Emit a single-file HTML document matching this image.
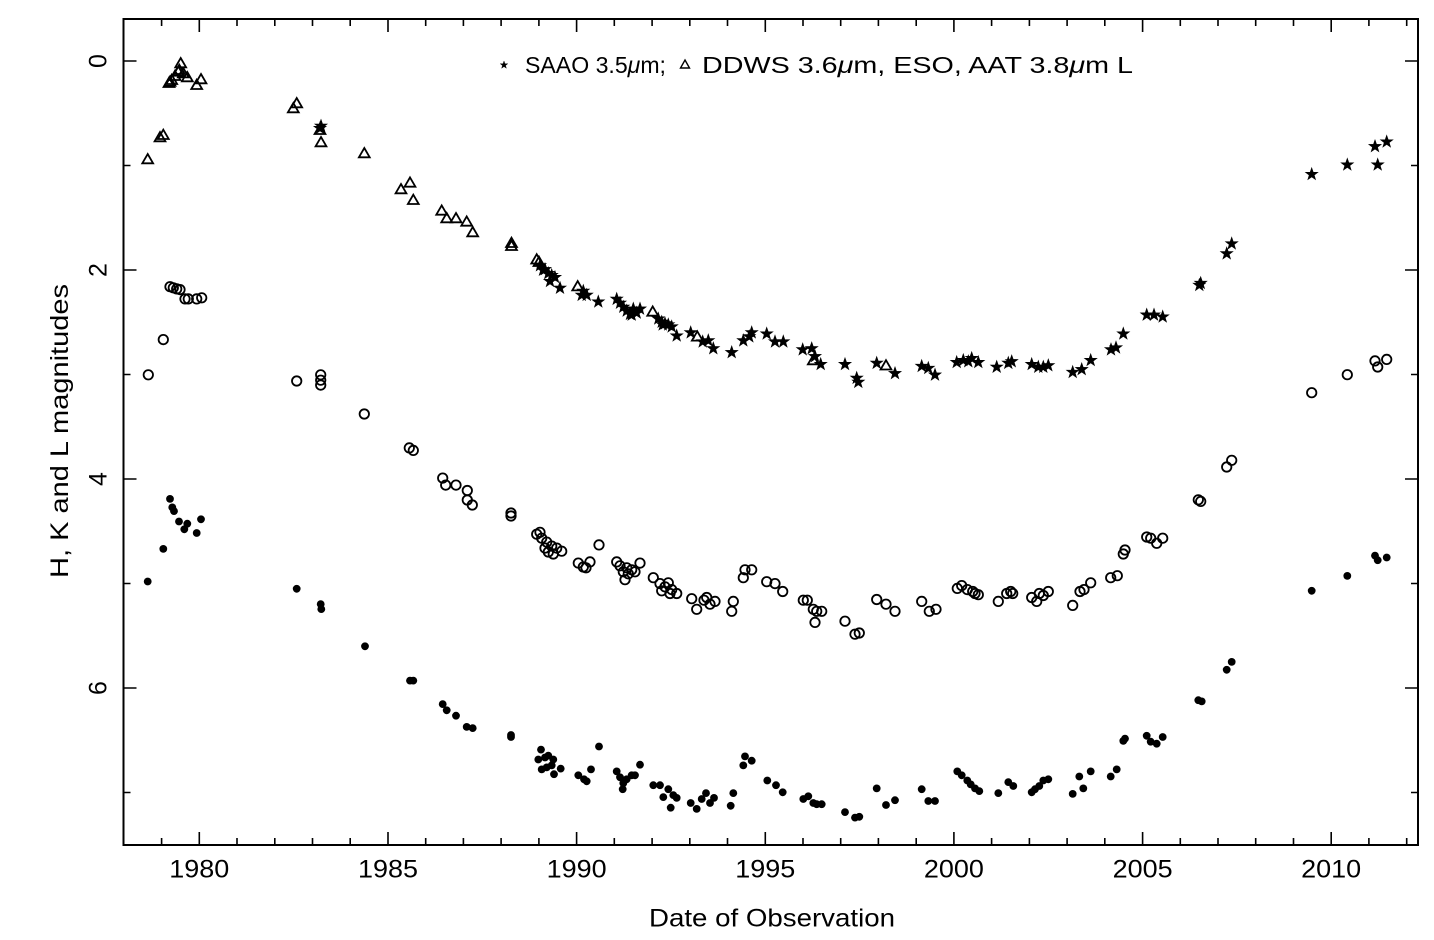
<!DOCTYPE html>
<html><head><meta charset="utf-8"><style>
html,body{margin:0;padding:0;background:#fff;}
svg{display:block;}
text{font-family:"Liberation Sans",sans-serif;fill:#000;}
</style></head><body>
<svg width="1434" height="940" viewBox="0 0 1434 940" xmlns="http://www.w3.org/2000/svg">
<defs>
<path id="s" d="M0,-6.5 L1.53,-2.1 L6.18,-2.01 L2.47,0.8 L3.82,5.26 L0,2.6 L-3.82,5.26 L-2.47,0.8 L-6.18,-2.01 L-1.53,-2.1 Z" fill="#000" stroke="#000" stroke-width="0.6"/>
<path id="t" d="M0,-5.3 L5.4,4 L-5.4,4 Z" fill="none" stroke="#000" stroke-width="1.8" stroke-linejoin="miter"/>
<circle id="k" r="4.7" fill="none" stroke="#000" stroke-width="1.8"/>
<circle id="d" r="3.9" fill="#000"/>
</defs>
<rect x="123.5" y="19" width="1294.5" height="826" fill="none" stroke="#000" stroke-width="2"/>
<g stroke="#000" stroke-width="1.6">
<path d="M161.6,845v-7M161.6,19v7M199.3,845v-13M199.3,19v13M237,845v-7M237,19v7M274.8,845v-7M274.8,19v7M312.5,845v-7M312.5,19v7M350.2,845v-7M350.2,19v7M388,845v-13M388,19v13M425.7,845v-7M425.7,19v7M463.4,845v-7M463.4,19v7M501.1,845v-7M501.1,19v7M538.9,845v-7M538.9,19v7M576.6,845v-13M576.6,19v13M614.3,845v-7M614.3,19v7M652.1,845v-7M652.1,19v7M689.8,845v-7M689.8,19v7M727.5,845v-7M727.5,19v7M765.3,845v-13M765.3,19v13M803,845v-7M803,19v7M840.7,845v-7M840.7,19v7M878.4,845v-7M878.4,19v7M916.2,845v-7M916.2,19v7M953.9,845v-13M953.9,19v13M991.6,845v-7M991.6,19v7M1029.4,845v-7M1029.4,19v7M1067.1,845v-7M1067.1,19v7M1104.8,845v-7M1104.8,19v7M1142.6,845v-13M1142.6,19v13M1180.3,845v-7M1180.3,19v7M1218,845v-7M1218,19v7M1255.7,845v-7M1255.7,19v7M1293.5,845v-7M1293.5,19v7M1331.2,845v-13M1331.2,19v13M1368.9,845v-7M1368.9,19v7M1406.7,845v-7M1406.7,19v7"/>
<path d="M123.5,61h13M1418,61h-13M123.5,165.5h7M1418,165.5h-7M123.5,270h13M1418,270h-13M123.5,374.5h7M1418,374.5h-7M123.5,479h13M1418,479h-13M123.5,583.5h7M1418,583.5h-7M123.5,688h13M1418,688h-13M123.5,792.5h7M1418,792.5h-7"/>
</g>
<g font-size="25" text-anchor="middle">
<text x="199.3" y="877.5" textLength="60" lengthAdjust="spacingAndGlyphs">1980</text>
<text x="388" y="877.5" textLength="60" lengthAdjust="spacingAndGlyphs">1985</text>
<text x="576.6" y="877.5" textLength="60" lengthAdjust="spacingAndGlyphs">1990</text>
<text x="765.3" y="877.5" textLength="60" lengthAdjust="spacingAndGlyphs">1995</text>
<text x="953.9" y="877.5" textLength="60" lengthAdjust="spacingAndGlyphs">2000</text>
<text x="1142.6" y="877.5" textLength="60" lengthAdjust="spacingAndGlyphs">2005</text>
<text x="1331.2" y="877.5" textLength="60" lengthAdjust="spacingAndGlyphs">2010</text>
<text transform="translate(106.5,61) rotate(-90)">0</text>
<text transform="translate(106.5,270) rotate(-90)">2</text>
<text transform="translate(106.5,479) rotate(-90)">4</text>
<text transform="translate(106.5,688) rotate(-90)">6</text>
<text x="772" y="926.7" textLength="246" lengthAdjust="spacingAndGlyphs">Date of Observation</text>
<text transform="translate(68,431) rotate(-90)" textLength="294" lengthAdjust="spacingAndGlyphs">H, K and L magnitudes</text>
</g>
<!-- legend -->
<use href="#s" transform="translate(504,65) scale(0.62)"/>
<path d="M685,60 L689.5,68 L680.5,68 Z" fill="none" stroke="#000" stroke-width="1.4"/>
<text x="525" y="73" font-size="23" textLength="141" lengthAdjust="spacingAndGlyphs">SAAO 3.5<tspan font-style="italic">μ</tspan>m;</text>
<text x="702" y="73" font-size="23" textLength="431" lengthAdjust="spacingAndGlyphs">DDWS 3.6<tspan font-style="italic">μ</tspan>m, ESO, AAT 3.8<tspan font-style="italic">μ</tspan>m L</text>

<g>
<use href="#t" x="147.7" y="159.3"/><use href="#t" x="160" y="137.3"/><use href="#t" x="163.3" y="135"/>
<use href="#t" x="169" y="83"/><use href="#t" x="170" y="81.7"/><use href="#t" x="171.7" y="80"/><use href="#t" x="175" y="76"/>
<use href="#t" x="178.3" y="71.7"/><use href="#t" x="180.7" y="63.3"/><use href="#t" x="179.3" y="70"/><use href="#t" x="183.3" y="73.3"/>
<use href="#t" x="187.3" y="77.3"/><use href="#t" x="196.7" y="85"/><use href="#t" x="201" y="79.3"/>
<use href="#t" x="293.3" y="108.3"/><use href="#t" x="296.7" y="103.3"/><use href="#t" x="320" y="130"/><use href="#t" x="321" y="142.3"/>
<use href="#t" x="364.3" y="153.3"/><use href="#t" x="401" y="189.3"/><use href="#t" x="410" y="182.7"/><use href="#t" x="413.3" y="200"/>
<use href="#t" x="441.7" y="210.7"/><use href="#t" x="446.7" y="218.3"/><use href="#t" x="456" y="218.3"/><use href="#t" x="466.7" y="221.7"/><use href="#t" x="472.7" y="232.3"/>
<use href="#t" x="511.5" y="243"/><use href="#t" x="511.5" y="246"/><use href="#t" x="536.7" y="259.5"/><use href="#t" x="539" y="262"/>
<use href="#t" x="577.7" y="286.4"/><use href="#t" x="652.7" y="311.7"/><use href="#t" x="697.3" y="336.6"/><use href="#t" x="813.3" y="360.3"/><use href="#t" x="886" y="365.5"/>
</g>
<g>
<use href="#s" x="320" y="128.3"/><use href="#s" x="321" y="126"/>
<use href="#s" x="540" y="265.5"/><use href="#s" x="545" y="269.4"/><use href="#s" x="548.3" y="273.4"/><use href="#s" x="551.7" y="275.3"/><use href="#s" x="550" y="281.3"/><use href="#s" x="555" y="277.3"/><use href="#s" x="560" y="288"/><use href="#s" x="543" y="270"/>
<use href="#s" x="583.3" y="291.1"/><use href="#s" x="586.7" y="295.1"/><use href="#s" x="581.7" y="295.1"/><use href="#s" x="598.3" y="301.8"/>
<use href="#s" x="616.7" y="299.1"/><use href="#s" x="620" y="303"/><use href="#s" x="623.3" y="307"/><use href="#s" x="626.7" y="310.9"/><use href="#s" x="630" y="314.1"/><use href="#s" x="633.3" y="308.9"/><use href="#s" x="636.7" y="312.9"/><use href="#s" x="640" y="308.9"/><use href="#s" x="631.7" y="314.9"/>
<use href="#s" x="658.3" y="318.8"/><use href="#s" x="661.7" y="322"/><use href="#s" x="665" y="323.6"/><use href="#s" x="668.3" y="324.7"/><use href="#s" x="671.7" y="326.7"/><use href="#s" x="676.7" y="335.8"/><use href="#s" x="662.7" y="324.7"/>
<use href="#s" x="690.7" y="332.6"/><use href="#s" x="702.7" y="341.7"/><use href="#s" x="708.3" y="340.6"/><use href="#s" x="713.3" y="348.5"/>
<use href="#s" x="731.7" y="352.4"/><use href="#s" x="743.3" y="340.6"/><use href="#s" x="751.7" y="332.6"/><use href="#s" x="749.3" y="336.6"/>
<use href="#s" x="766.7" y="333.8"/><use href="#s" x="775" y="341.7"/><use href="#s" x="783.3" y="341.7"/>
<use href="#s" x="802.7" y="349.6"/><use href="#s" x="811.7" y="348.5"/><use href="#s" x="815" y="356.4"/><use href="#s" x="820.7" y="364.3"/>
<use href="#s" x="845" y="364.3"/><use href="#s" x="856.7" y="378.1"/><use href="#s" x="858.3" y="382.1"/><use href="#s" x="876.7" y="363.1"/><use href="#s" x="895" y="373.4"/>
<use href="#s" x="921.7" y="366.2"/><use href="#s" x="928.3" y="368.2"/><use href="#s" x="935" y="374.9"/>
<use href="#s" x="956.7" y="362.3"/><use href="#s" x="963.3" y="360.3"/><use href="#s" x="971.7" y="358.3"/><use href="#s" x="978.3" y="362.3"/><use href="#s" x="968.3" y="361.5"/>
<use href="#s" x="996.7" y="367"/><use href="#s" x="1008.3" y="363.1"/><use href="#s" x="1011.7" y="361.5"/>
<use href="#s" x="1031.7" y="364.3"/><use href="#s" x="1038.3" y="367"/><use href="#s" x="1043.3" y="367"/><use href="#s" x="1048.3" y="365.5"/>
<use href="#s" x="1072.7" y="372.2"/><use href="#s" x="1081.7" y="369.4"/><use href="#s" x="1090.7" y="360.3"/>
<use href="#s" x="1111" y="349.6"/><use href="#s" x="1116" y="347.7"/><use href="#s" x="1123.3" y="333.8"/>
<use href="#s" x="1146.7" y="314.9"/><use href="#s" x="1154" y="314.9"/><use href="#s" x="1162.7" y="316.8"/>
<use href="#s" x="1199.3" y="285.2"/><use href="#s" x="1200.7" y="283.2"/><use href="#s" x="1226.7" y="253.6"/><use href="#s" x="1231.7" y="243.7"/>
<use href="#s" x="1311.7" y="174.3"/><use href="#s" x="1347.3" y="164.8"/><use href="#s" x="1375" y="146.4"/><use href="#s" x="1377.7" y="164.8"/><use href="#s" x="1386.7" y="141.8"/>
</g>
<g>
<use href="#k" x="148.3" y="374.8"/><use href="#k" x="163.3" y="339.6"/><use href="#k" x="170" y="286.7"/><use href="#k" x="173.3" y="287.8"/><use href="#k" x="176.7" y="288.9"/><use href="#k" x="180" y="289.6"/>
<use href="#k" x="185" y="298.9"/><use href="#k" x="188.3" y="298.9"/><use href="#k" x="196.7" y="298.9"/><use href="#k" x="201.7" y="297.8"/>
<use href="#k" x="296.7" y="381"/><use href="#k" x="320.7" y="374.8"/><use href="#k" x="320.7" y="380.2"/><use href="#k" x="320.7" y="385.1"/>
<use href="#k" x="364.3" y="414"/><use href="#k" x="409.3" y="447.9"/><use href="#k" x="413.3" y="450.4"/>
<use href="#k" x="442.7" y="478.1"/><use href="#k" x="445.7" y="485.1"/><use href="#k" x="456" y="485.1"/><use href="#k" x="467.3" y="490.5"/><use href="#k" x="467.3" y="500"/><use href="#k" x="472.3" y="505"/>
<use href="#k" x="511" y="513"/><use href="#k" x="511" y="516"/>
<use href="#k" x="536.7" y="534.2"/><use href="#k" x="540" y="532.3"/><use href="#k" x="541.7" y="538.2"/><use href="#k" x="546.7" y="542.1"/><use href="#k" x="548.3" y="552"/><use href="#k" x="553.3" y="554"/><use href="#k" x="551.7" y="546.1"/><use href="#k" x="556.7" y="548.1"/><use href="#k" x="561.7" y="551.2"/><use href="#k" x="545" y="548.1"/>
<use href="#k" x="578.3" y="563.1"/><use href="#k" x="586" y="567.8"/><use href="#k" x="583.3" y="567"/><use href="#k" x="590" y="561.9"/><use href="#k" x="599" y="544.9"/>
<use href="#k" x="616.7" y="561.9"/><use href="#k" x="620" y="565.8"/><use href="#k" x="623.3" y="571.8"/><use href="#k" x="625" y="579.7"/><use href="#k" x="628.3" y="573.8"/><use href="#k" x="631.7" y="569.8"/><use href="#k" x="635" y="571.8"/><use href="#k" x="640" y="563.1"/><use href="#k" x="626.7" y="567.8"/>
<use href="#k" x="653.3" y="577.7"/><use href="#k" x="660" y="583.6"/><use href="#k" x="661.7" y="590.8"/><use href="#k" x="665" y="586.8"/><use href="#k" x="670" y="593.5"/><use href="#k" x="671.7" y="589.6"/><use href="#k" x="676.7" y="593.5"/><use href="#k" x="668.3" y="582.8"/>
<use href="#k" x="691.7" y="598.7"/><use href="#k" x="696.7" y="609.3"/><use href="#k" x="704" y="600.2"/><use href="#k" x="706.7" y="597.5"/><use href="#k" x="710" y="604.2"/><use href="#k" x="715" y="601.4"/>
<use href="#k" x="731.7" y="611.3"/><use href="#k" x="733.3" y="601.4"/><use href="#k" x="743.3" y="577.7"/><use href="#k" x="745" y="569.8"/><use href="#k" x="751.7" y="569.8"/>
<use href="#k" x="766.7" y="581.7"/><use href="#k" x="775" y="583.6"/><use href="#k" x="782.7" y="591.5"/>
<use href="#k" x="803.3" y="600.2"/><use href="#k" x="807.3" y="600.2"/><use href="#k" x="813.3" y="609.3"/><use href="#k" x="816.7" y="611.3"/><use href="#k" x="821.7" y="611.3"/><use href="#k" x="815" y="622.4"/>
<use href="#k" x="845" y="621.2"/><use href="#k" x="855" y="634.2"/><use href="#k" x="859.3" y="633"/>
<use href="#k" x="876.7" y="599.5"/><use href="#k" x="886" y="604.2"/><use href="#k" x="895" y="611.3"/>
<use href="#k" x="921.7" y="601.4"/><use href="#k" x="929.3" y="611.3"/><use href="#k" x="936" y="609.3"/>
<use href="#k" x="957.3" y="588.4"/><use href="#k" x="961.7" y="585.6"/><use href="#k" x="967.3" y="589.6"/><use href="#k" x="972.7" y="591.5"/><use href="#k" x="978.3" y="594.7"/><use href="#k" x="975" y="593.5"/>
<use href="#k" x="998.3" y="601.4"/><use href="#k" x="1006.7" y="593.5"/><use href="#k" x="1012.7" y="593.5"/><use href="#k" x="1010.7" y="591.5"/>
<use href="#k" x="1031.7" y="597.5"/><use href="#k" x="1036.7" y="601.4"/><use href="#k" x="1039.3" y="593.5"/><use href="#k" x="1043.3" y="595.5"/><use href="#k" x="1048.3" y="591.5"/>
<use href="#k" x="1072.7" y="605.4"/><use href="#k" x="1080" y="591.5"/><use href="#k" x="1084" y="589.6"/><use href="#k" x="1090.7" y="582.8"/>
<use href="#k" x="1110.7" y="577.7"/><use href="#k" x="1117.3" y="575.7"/><use href="#k" x="1123.3" y="554"/><use href="#k" x="1125" y="550"/>
<use href="#k" x="1146.7" y="537"/><use href="#k" x="1150.7" y="538.2"/><use href="#k" x="1156.7" y="543.3"/><use href="#k" x="1162.7" y="538.2"/>
<use href="#k" x="1198.3" y="499.8"/><use href="#k" x="1200.7" y="501.4"/><use href="#k" x="1226.7" y="467"/><use href="#k" x="1231.7" y="460.3"/>
<use href="#k" x="1311.7" y="392.7"/><use href="#k" x="1347.3" y="374.7"/><use href="#k" x="1375" y="360.9"/><use href="#k" x="1377.7" y="367"/><use href="#k" x="1386.7" y="359.4"/>
</g>
<g>
<use href="#d" x="147.7" y="581.5"/><use href="#d" x="163.3" y="548.9"/><use href="#d" x="170" y="498.9"/><use href="#d" x="172.3" y="507.4"/><use href="#d" x="174" y="511.1"/><use href="#d" x="179" y="521.5"/><use href="#d" x="184.3" y="529.3"/><use href="#d" x="187.3" y="523.7"/><use href="#d" x="196.7" y="533"/><use href="#d" x="201" y="519.3"/>
<use href="#d" x="296.7" y="588.8"/><use href="#d" x="320.7" y="604.1"/><use href="#d" x="321.3" y="609.1"/><use href="#d" x="365" y="646.3"/><use href="#d" x="410" y="680.6"/><use href="#d" x="413.3" y="680.6"/>
<use href="#d" x="442.7" y="704.1"/><use href="#d" x="446.7" y="710.3"/><use href="#d" x="456" y="715.7"/><use href="#d" x="466.7" y="726.9"/><use href="#d" x="472.7" y="728.1"/>
<use href="#d" x="511" y="735"/><use href="#d" x="511" y="737"/>
<use href="#d" x="541" y="749.6"/><use href="#d" x="538.3" y="759.5"/><use href="#d" x="545" y="757.5"/><use href="#d" x="548.3" y="755.6"/><use href="#d" x="553.3" y="759.5"/><use href="#d" x="541.7" y="769.4"/><use href="#d" x="546.7" y="767.4"/><use href="#d" x="551.7" y="765.4"/><use href="#d" x="554" y="774.2"/><use href="#d" x="560.7" y="768.6"/>
<use href="#d" x="578.3" y="775.3"/><use href="#d" x="584" y="779.3"/><use href="#d" x="586.7" y="781.3"/><use href="#d" x="591" y="769.4"/><use href="#d" x="599" y="746.5"/>
<use href="#d" x="616.7" y="771.4"/><use href="#d" x="620" y="777.3"/><use href="#d" x="623.3" y="783.2"/><use href="#d" x="622.7" y="789.2"/><use href="#d" x="626.7" y="779.3"/><use href="#d" x="631.7" y="775.3"/><use href="#d" x="635" y="775.3"/><use href="#d" x="640" y="764.7"/>
<use href="#d" x="653.3" y="785.2"/><use href="#d" x="660" y="785.2"/><use href="#d" x="663.3" y="797.1"/><use href="#d" x="668.3" y="789.2"/><use href="#d" x="670.7" y="807.7"/><use href="#d" x="673.3" y="795.1"/><use href="#d" x="676.7" y="797.9"/>
<use href="#d" x="690.7" y="803"/><use href="#d" x="696.7" y="808.9"/><use href="#d" x="701.7" y="799"/><use href="#d" x="706" y="793.1"/><use href="#d" x="710" y="803"/><use href="#d" x="714" y="797.9"/>
<use href="#d" x="730.7" y="805.8"/><use href="#d" x="733.3" y="793.1"/><use href="#d" x="743.3" y="765.4"/><use href="#d" x="745" y="756.4"/><use href="#d" x="751.7" y="760.7"/>
<use href="#d" x="767.3" y="780.5"/><use href="#d" x="776" y="785.2"/><use href="#d" x="782.7" y="792.3"/>
<use href="#d" x="803.3" y="799"/><use href="#d" x="808.3" y="796.3"/><use href="#d" x="813.3" y="803"/><use href="#d" x="816.7" y="804.2"/><use href="#d" x="821.7" y="804.2"/>
<use href="#d" x="845" y="812.1"/><use href="#d" x="855" y="817.6"/><use href="#d" x="859.3" y="816.8"/>
<use href="#d" x="876.7" y="788.4"/><use href="#d" x="886" y="805"/><use href="#d" x="895" y="800.2"/>
<use href="#d" x="921.7" y="789.2"/><use href="#d" x="928.3" y="801"/><use href="#d" x="935" y="801"/>
<use href="#d" x="957.3" y="771.4"/><use href="#d" x="961.7" y="775.3"/><use href="#d" x="967.3" y="780.5"/><use href="#d" x="970.7" y="784.4"/><use href="#d" x="975" y="788.4"/><use href="#d" x="979.3" y="791.1"/>
<use href="#d" x="998.3" y="793.1"/><use href="#d" x="1008.3" y="782.1"/><use href="#d" x="1013.3" y="786"/>
<use href="#d" x="1031.7" y="792.3"/><use href="#d" x="1035" y="789.2"/><use href="#d" x="1039.3" y="786"/><use href="#d" x="1043.3" y="780.5"/><use href="#d" x="1048.3" y="779.3"/>
<use href="#d" x="1072.7" y="793.9"/><use href="#d" x="1079.3" y="776.5"/><use href="#d" x="1083.3" y="788.4"/><use href="#d" x="1090.7" y="771.4"/>
<use href="#d" x="1110.7" y="776.5"/><use href="#d" x="1116.7" y="769.4"/><use href="#d" x="1123.3" y="740.9"/><use href="#d" x="1125" y="738.6"/>
<use href="#d" x="1146.7" y="735.8"/><use href="#d" x="1150.7" y="741.7"/><use href="#d" x="1156.7" y="743.7"/><use href="#d" x="1162.7" y="737"/>
<use href="#d" x="1198.3" y="700.2"/><use href="#d" x="1201.7" y="701.4"/><use href="#d" x="1226.7" y="669.8"/><use href="#d" x="1231.7" y="661.9"/>
<use href="#d" x="1311.7" y="590.8"/><use href="#d" x="1347.3" y="575.9"/><use href="#d" x="1375" y="555.6"/><use href="#d" x="1377.7" y="560.2"/><use href="#d" x="1386.7" y="557.5"/>
</g>
</svg>
</body></html>
